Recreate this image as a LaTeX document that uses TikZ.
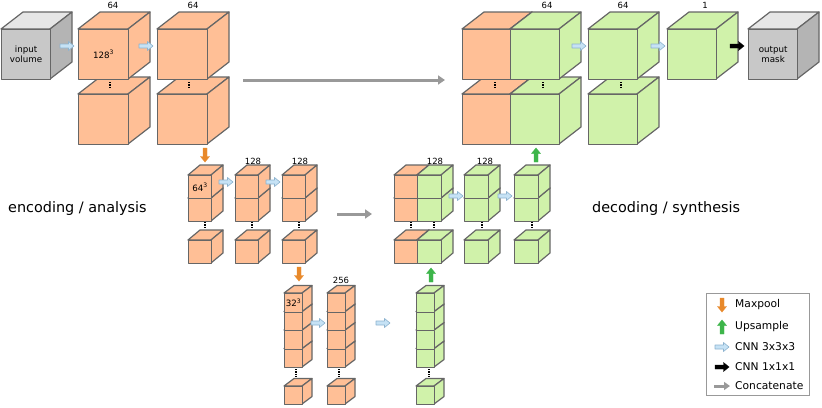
\documentclass[tikz,border=0pt]{standalone}
\usepackage{fontspec}
\setmainfont{DejaVu Sans}
\usetikzlibrary{arrows.meta}
\definecolor{corg}{HTML}{FFBF96}
\definecolor{cgrn}{HTML}{D0F2AA}
\definecolor{cgfr}{HTML}{C8C8C8}
\definecolor{cgtp}{HTML}{E6E6E6}
\definecolor{cgsd}{HTML}{B4B4B4}
\definecolor{cedge}{HTML}{666666}
\definecolor{cblue}{HTML}{C6E2F5}
\definecolor{cbluee}{HTML}{8DB3CF}
\definecolor{cmax}{HTML}{E8892B}
\definecolor{cup}{HTML}{3DB54A}
\definecolor{ccat}{HTML}{999999}
\newcommand{\cubefnt}{\fontsize{8.7}{9}\selectfont}
\newcommand{\numfnt}{\fontsize{8.5}{9}\selectfont}
\newcommand{\bigfnt}{\fontsize{14.4}{16}\selectfont}
\newcommand{\legfnt}{\fontsize{10.7}{12}\selectfont}
% name, x, y, w, h, dx, dy, colourset, text
\newcommand{\cubeN}[9]{%
  \filldraw[cubeedge,#8top] (#2,#3) -- ++(#6,-#7) -- ++(#4,0) -- ++(-#6,#7) -- cycle;
  \filldraw[cubeedge,#8side] (#2+#4,#3) -- ++(#6,-#7) -- ++(0,#5) -- ++(-#6,#7) -- cycle;
  \node[cubeedge,#8front,draw,minimum width=#4pt,minimum height=#5pt,anchor=north west,inner sep=0pt,align=center] (#1) at (#2,#3) {#9};
}
% style, x, y, angle
\newcommand{\blkarrow}[4]{%
  \path[#1,shift={(#2,#3)},rotate=#4] (0,-2) -- (8.5,-2) -- (8.5,-4.5) -- (14,0) -- (8.5,4.5) -- (8.5,2) -- (0,2) -- cycle;
}
\tikzset{
  cubeedge/.style={draw=cedge,line width=1.2pt,line join=round},
  orgtop/.style={fill=corg}, orgside/.style={fill=corg}, orgfront/.style={fill=corg},
  grntop/.style={fill=cgrn}, grnside/.style={fill=cgrn}, grnfront/.style={fill=cgrn},
  graytop/.style={fill=cgtp}, grayside/.style={fill=cgsd}, grayfront/.style={fill=cgfr},
  cnn/.style={fill=cblue,draw=cbluee,line width=0.6pt,line join=round},
  conv/.style={fill=black,draw=black,line width=0.4pt},
  maxp/.style={fill=cmax,draw=cmax,line width=0.4pt},
  ups/.style={fill=cup,draw=cup,line width=0.4pt},
  catarrow/.style={draw=ccat,line width=3pt,-{Triangle[length=7pt,width=9pt]}},
  dotline/.style={draw=black,line width=1.2pt,dash pattern=on 1.2pt off 1.2pt},
  lab/.style={inner sep=0pt,font=\numfnt},
}
\begin{document}
\begin{tikzpicture}[x=1pt,y=-1pt]
\useasboundingbox (0,0) rectangle (822,407);

% ---------- level 1 ----------
\cubeN{inp}{1}{29}{49}{50}{22}{17}{gray}{\cubefnt input\\[-2pt]\cubefnt volume}
\cubeN{e1b}{78}{94}{50}{50}{22}{17}{org}{}
\cubeN{e1a}{78}{29}{50}{50}{22}{17}{org}{\cubefnt 128\textsuperscript{3}}
\cubeN{e2b}{157}{94}{50}{50}{22}{17}{org}{}
\cubeN{e2a}{157}{29}{50}{50}{22}{17}{org}{}
\cubeN{d1ob}{462}{94}{48}{50}{22}{17}{org}{}
\cubeN{d1gb}{510}{94}{49}{50}{22}{17}{grn}{}
\cubeN{d1oa}{462}{29}{48}{50}{22}{17}{org}{}
\cubeN{d1ga}{510}{29}{49}{50}{22}{17}{grn}{}
\cubeN{d2b}{588}{94}{49}{50}{22}{17}{grn}{}
\cubeN{d2a}{588}{29}{49}{50}{22}{17}{grn}{}
\cubeN{d3a}{667}{29}{49}{50}{22}{17}{grn}{}
\cubeN{out}{748}{29}{49}{50}{22}{17}{gray}{\cubefnt output\\[-2pt]\cubefnt mask}

\draw[dotline] (110,82) -- (110,89);
\draw[dotline] (189,82) -- (189,89);
\draw[dotline] (495,82) -- (495,89);
\draw[dotline] (543,82) -- (543,89);
\draw[dotline] (621,82) -- (621,89);

\node[lab] (t1) at (113,5) {64};
\node[lab] (t2) at (193,5) {64};
\node[lab] (t3) at (547,5) {64};
\node[lab] (t4) at (623,5) {64};
\node[lab] (t5) at (705,5) {1};

\blkarrow{cnn}{60}{46}{0}
\blkarrow{cnn}{139}{46}{0}
\blkarrow{cnn}{572}{46}{0}
\blkarrow{cnn}{651}{46}{0}
\blkarrow{conv}{730}{46}{0}

\coordinate (c1s) at (243,80);
\coordinate (c1e) at (445,80);
\draw[catarrow] (c1s) -- (c1e);

% ---------- level 2 ----------
\foreach \xx/\nm in {188/a,235/b,282/c}{
  \cubeN{l2\nm c}{\xx}{240}{23}{23}{12}{10}{org}{}
  \cubeN{l2\nm b}{\xx}{198}{23}{23}{12}{10}{org}{}
}
\cubeN{l2aa}{188}{175}{23}{23}{12}{10}{org}{\cubefnt 64\textsuperscript{3}}
\cubeN{l2ba}{235}{175}{23}{23}{12}{10}{org}{}
\cubeN{l2ca}{282}{175}{23}{23}{12}{10}{org}{}

\cubeN{m2oc}{394}{240}{23}{23}{12}{10}{org}{}
\cubeN{m2gc}{417}{240}{24}{23}{12}{10}{grn}{}
\cubeN{m2ob}{394}{198}{23}{23}{12}{10}{org}{}
\cubeN{m2gb}{417}{198}{24}{23}{12}{10}{grn}{}
\cubeN{m2oa}{394}{175}{23}{23}{12}{10}{org}{}
\cubeN{m2ga}{417}{175}{24}{23}{12}{10}{grn}{}
\foreach \xx/\nm in {464/b,514/c}{
  \cubeN{n2\nm c}{\xx}{240}{24}{23}{12}{10}{grn}{}
  \cubeN{n2\nm b}{\xx}{198}{24}{23}{12}{10}{grn}{}
  \cubeN{n2\nm a}{\xx}{175}{24}{23}{12}{10}{grn}{}
}

\foreach \xx in {205,252,299,411,434,482,532}{
  \draw[dotline] (\xx,222) -- (\xx,229);
}

\node[lab] (u1) at (253,161) {128};
\node[lab] (u2) at (300,161) {128};
\node[lab] (u3) at (435,161) {128};
\node[lab] (u4) at (485,161) {128};

\blkarrow{cnn}{219}{182}{0}
\blkarrow{cnn}{266}{182}{0}
\blkarrow{cnn}{449}{196}{0}
\blkarrow{cnn}{498}{196}{0}
\blkarrow{maxp}{205}{148}{-90}
\blkarrow{ups}{536}{162}{90}

\coordinate (c2s) at (337,214);
\coordinate (c2e) at (372,214);
\draw[catarrow] (c2s) -- (c2e);

% ---------- level 3 ----------
\foreach \xx/\nm/\cs in {284/a/org,327/b/org,416/c/grn}{
  \cubeN{l3\nm e}{\xx}{386}{18}{18}{10}{7.5}{\cs}{}
  \cubeN{l3\nm d}{\xx}{348.5}{18}{18.5}{10}{7.5}{\cs}{}
  \cubeN{l3\nm c}{\xx}{330}{18}{18.5}{10}{7.5}{\cs}{}
  \cubeN{l3\nm b}{\xx}{311.5}{18}{18.5}{10}{7.5}{\cs}{}
}
\cubeN{l3aa}{284}{293}{18}{18.5}{10}{7.5}{org}{\cubefnt 32\textsuperscript{3}}
\cubeN{l3ba}{327}{293}{18}{18.5}{10}{7.5}{org}{}
\cubeN{l3ca}{416}{293}{18}{18.5}{10}{7.5}{grn}{}

\foreach \xx in {296,339,429}{
  \draw[dotline] (\xx,369) -- (\xx,377);
}
\node[lab] (v1) at (341,280) {256};

\blkarrow{cnn}{311}{323}{0}
\blkarrow{cnn}{376}{323}{0}
\blkarrow{maxp}{299}{267}{-90}
\blkarrow{ups}{431}{282}{90}

% ---------- side labels ----------
\node[inner sep=0pt,font=\bigfnt,anchor=west] (enc) at (8,209) {encoding / analysis};
\node[inner sep=0pt,font=\bigfnt,anchor=west] (dec) at (592,209) {decoding / synthesis};

% ---------- legend ----------
\node[draw=ccat,line width=0.7pt,minimum width=103pt,minimum height=102pt,anchor=north west,inner sep=0pt] (leg) at (706,293) {};
\blkarrow{maxp}{722}{298}{-90}
\blkarrow{ups}{722}{334}{90}
\blkarrow{cnn}{715}{347}{0}
\blkarrow{conv}{715}{367}{0}
\coordinate (lgs) at (714,386);
\coordinate (lge) at (730,386);
\draw[catarrow,-{Triangle[length=6pt,width=8pt]}] (lgs) -- (lge);
\node[inner sep=0pt,font=\legfnt,anchor=west] (g1) at (735,305) {Maxpool};
\node[inner sep=0pt,font=\legfnt,anchor=west] (g2) at (735,327) {Upsample};
\node[inner sep=0pt,font=\legfnt,anchor=west] (g3) at (735,347) {CNN 3x3x3};
\node[inner sep=0pt,font=\legfnt,anchor=west] (g4) at (735,367) {CNN 1x1x1};
\node[inner sep=0pt,font=\legfnt,anchor=west] (g5) at (735,386) {Concatenate};
\end{tikzpicture}
\end{document}
